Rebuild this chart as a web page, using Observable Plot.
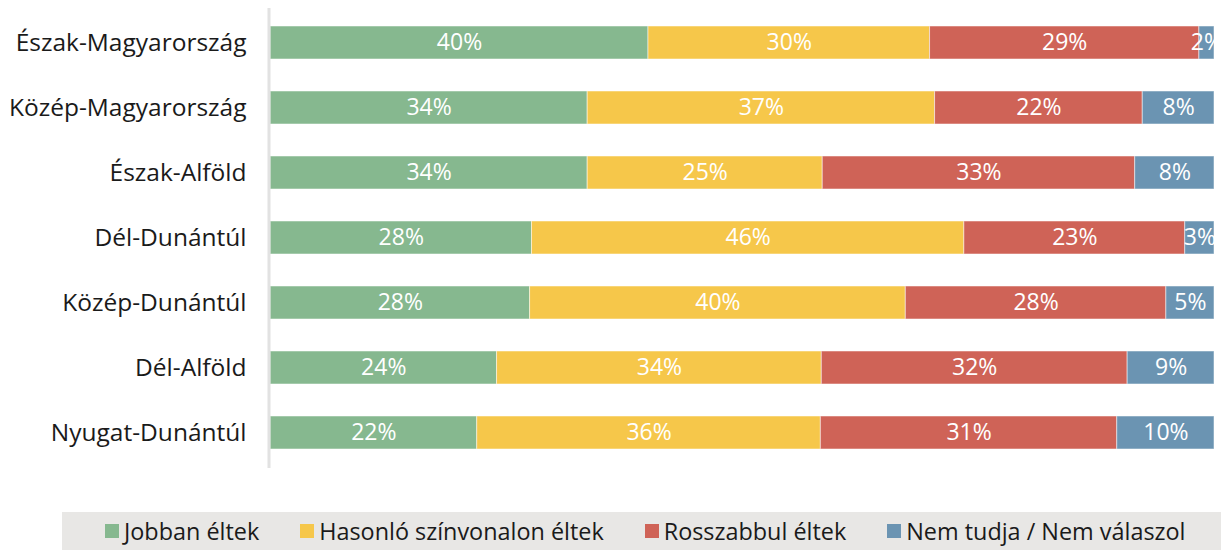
<!DOCTYPE html>
<html><head><meta charset="utf-8">
<script src="https://cdn.jsdelivr.net/npm/d3@7"></script>
<script src="https://cdn.jsdelivr.net/npm/@observablehq/plot@0.6"></script>
<style>
body{margin:0;background:#fff;font-family:"Open Sans", sans-serif;}
#legend{margin-left:62px;margin-top:12px;height:38px;background:#e8e7e5;display:flex;align-items:center;padding-left:43px;box-sizing:border-box;overflow:hidden;}
#legend .lg-swatches{flex-wrap:nowrap !important;white-space:nowrap;}
#legend .lg-swatch{margin-right:41px;}
#legend .lg-swatch:last-child{margin-right:0;}
#legend .lg-swatch > svg{margin-right:5px;}
</style></head><body><div id="chart"></div><div id="legend"></div><script>
const regions = ["Észak-Magyarország","Közép-Magyarország","Észak-Alföld","Dél-Dunántúl","Közép-Dunántúl","Dél-Alföld","Nyugat-Dunántúl"];
const categories = ["Jobban éltek","Hasonló színvonalon éltek","Rosszabbul éltek","Nem tudja / Nem válaszol"];
const colors = ["#86b88f","#f6c74a","#cf6357","#6b94b2"];
const jobban     = [40.0, 33.6, 33.6, 27.7, 27.5, 24.0, 21.9];
const hasonlo    = [29.8, 36.8, 24.9, 45.8, 39.8, 34.4, 36.4];
const rosszabbul = [28.5, 22.0, 33.1, 23.4, 27.6, 32.4, 31.4];
const nemtudja   = [1.6, 7.6, 8.4, 3.1, 5.1, 9.2, 10.3];
const series = [jobban, hasonlo, rosszabbul, nemtudja];

const data = regions.flatMap((r, i) => categories.map((c, j) => ({region: r, cat: c, value: series[j][i]})));

const chart = Plot.plot({
  width: 1221, height: 500,
  marginLeft: 270, marginRight: 7, marginTop: 8, marginBottom: 32,
  x: {axis: null, domain: [0, 1]},
  y: {domain: regions, paddingInner: 0.49, paddingOuter: 0.25, label: null},
  color: {domain: categories, range: colors},
  style: {fontFamily: "'Open Sans', sans-serif", background: "white"},
  marks: [
    Plot.barX(data, Plot.stackX({x: "value", y: "region", fill: "cat", offset: "normalize", order: categories, stroke: "white", strokeOpacity: 0.5, strokeWidth: 1})),
    Plot.text(data, Plot.stackX({x: "value", y: "region", z: "cat", offset: "normalize", order: categories, text: d => Math.round(d.value) + "%", fill: "white", fontSize: 23, clip: true})),
    Plot.ruleX([0], {stroke: "#e2e2e2", strokeWidth: 3, dx: -1.5}),
    Plot.axisY({tickSize: 0, tickPadding: 24, fontSize: 24.5, fill: "#1a1a1a", label: null})
  ]
});
document.getElementById("chart").appendChild(chart);

const legend = Plot.legend({
  color: {type: "ordinal", domain: categories, range: colors},
  swatchSize: 14,
  className: "lg",
  style: {fontSize: "23.4px", fontFamily: "'Open Sans', sans-serif", color: "#1a1a1a", margin: "0"}
});
document.getElementById("legend").appendChild(legend);
</script></body></html>
